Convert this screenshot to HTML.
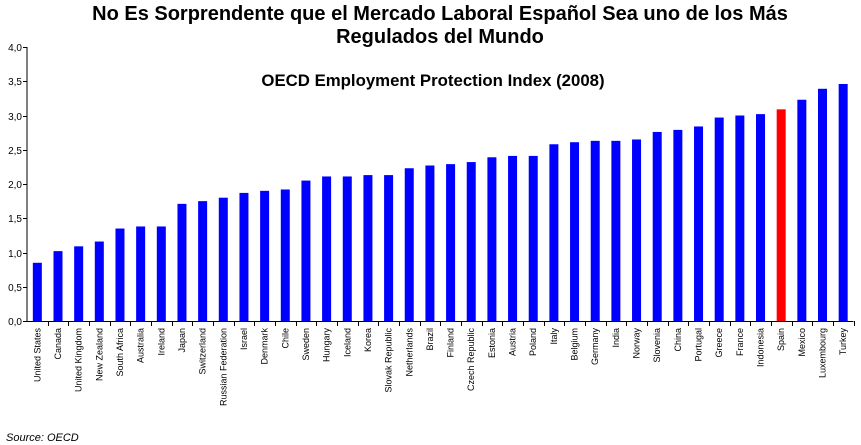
<!DOCTYPE html>
<html><head><meta charset="utf-8"><style>
body{margin:0;background:#fff;}
svg{display:block;font-family:"Liberation Sans",Arial,sans-serif;}
</style></head><body>
<svg id="c" width="861" height="445">
<text x="440" y="20" text-anchor="middle" font-size="20" font-weight="bold">No Es Sorprendente que el Mercado Laboral Español Sea uno de los Más</text>
<text x="440" y="43" text-anchor="middle" font-size="20" font-weight="bold">Regulados del Mundo</text>
<text x="433" y="86" text-anchor="middle" font-size="16.8" font-weight="bold">OECD Employment Protection Index (2008)</text>
<text x="6" y="441" font-size="11" font-style="italic">Source: OECD</text>
<g id="plot"></g>
</svg>
<script>
const categories=["United States","Canada","United Kingdom","New Zealand","South Africa","Australia","Ireland","Japan","Switzerland","Russian Federation","Israel","Denmark","Chile","Sweden","Hungary","Iceland","Korea","Slovak Republic","Netherlands","Brazil","Finland","Czech Republic","Estonia","Austria","Poland","Italy","Belgium","Germany","India","Norway","Slovenia","China","Portugal","Greece","France","Indonesia","Spain","Mexico","Luxembourg","Turkey"];
const values=[0.85,1.02,1.09,1.16,1.35,1.38,1.38,1.71,1.75,1.80,1.87,1.90,1.92,2.05,2.11,2.11,2.13,2.13,2.23,2.27,2.29,2.32,2.39,2.41,2.41,2.58,2.61,2.63,2.63,2.65,2.76,2.79,2.84,2.97,3.00,3.02,3.09,3.23,3.39,3.46];
const yTicks=[0,0.5,1,1.5,2,2.5,3,3.5,4];
const yTickLabels=["0,0","0,5","1,0","1,5","2,0","2,5","3,0","3,5","4,0"];
const highlight="Spain";
const NS="http://www.w3.org/2000/svg";
const g=document.getElementById('plot');
const L=27,R=853.5,T=47,B=321,yMax=4;
const bw=(R-L)/categories.length;
const y=v=>B-(v/yMax)*(B-T);
const x=i=>L+i*bw;
function mk(t,a){const e=document.createElementNS(NS,t);for(const k in a)e.setAttribute(k,a[k]);g.appendChild(e);return e;}
let e=mk('line',{x1:L,y1:T,x2:L,y2:B,stroke:'#000','stroke-width':1});


e=mk('line',{x1:L,y1:B+0.5,x2:R,y2:B+0.5,stroke:'#000','stroke-width':1});


yTicks.forEach((t,i)=>{
 const yy=Math.round(y(t))+0.5;
 let l=mk('line',{x1:L-4,y1:yy,x2:L,y2:yy,stroke:'#000'});
 
 
 let tx=mk('text',{x:L-5,y:yy+3.5,'text-anchor':'end','font-size':10});
 tx.textContent=yTickLabels[i];
 
 
});
categories.forEach((c,i)=>{
 const xx=Math.round(x(i+1))+0.5;
 let l=mk('line',{x1:xx,y1:B,x2:xx,y2:B+5,stroke:'#000'});
 
 
 const cx=x(i)+bw/2;
 let r=mk('rect',{x:cx-4.5,y:y(values[i]),width:9,height:B-y(values[i]),fill:c===highlight?'#ff0000':'#0000ff'});
 
 
 let tx=mk('text',{x:0,y:0,'text-anchor':'end','font-size':9,transform:`translate(${cx+3},${B+7}) rotate(-90)`});
 tx.textContent=c;
 
 
});
</script>
</body></html>
